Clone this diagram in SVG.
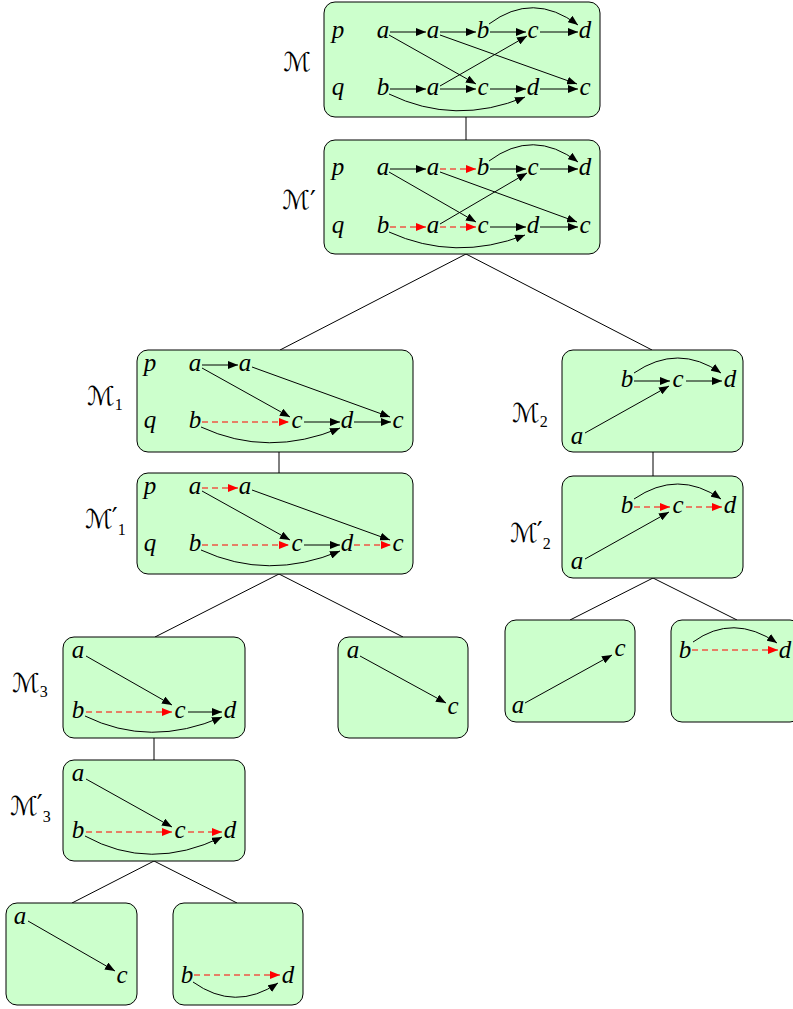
<svg xmlns="http://www.w3.org/2000/svg" width="793" height="1009" viewBox="0 0 793 1009">
<style>
.box{fill:#ccffcc;stroke:#000;stroke-width:1}
.t{font-family:"Liberation Serif",serif;font-style:italic;font-size:25px;text-anchor:middle;fill:#000}
.lab{font-family:"DejaVu Serif","DejaVu Sans",serif;font-size:26px;fill:#000}
.sub{font-size:16px;font-family:"Liberation Serif",serif}
.e{fill:none;stroke:#000;stroke-width:1;marker-end:url(#ah)}
.r{fill:none;stroke:#ff0000;stroke-width:1;stroke-dasharray:6 4;marker-end:url(#ahr)}
.tree{fill:none;stroke:#000;stroke-width:1}
</style>
<defs>
<marker id="ah" markerUnits="userSpaceOnUse" markerWidth="11" markerHeight="8" refX="10" refY="4" orient="auto"><path d="M0,0 L10,4 L0,8 z" fill="#000"/></marker>
<marker id="ahr" markerUnits="userSpaceOnUse" markerWidth="11" markerHeight="8" refX="10" refY="4" orient="auto"><path d="M0,0 L10,4 L0,8 z" fill="#ff0000"/></marker>
</defs>
<g id="connectors">
<path class="tree" d="M466,117 V140"/>
<path class="tree" d="M466,254 L280,350"/>
<path class="tree" d="M466,254 L652,350"/>
<path class="tree" d="M279,452 V473"/>
<path class="tree" d="M653,452 V476"/>
<path class="tree" d="M279,574 L155,637"/>
<path class="tree" d="M279,574 L403,637"/>
<path class="tree" d="M653,578 L570,620"/>
<path class="tree" d="M653,578 L737,620"/>
<path class="tree" d="M154,738 V760"/>
<path class="tree" d="M154,861 L72,903"/>
<path class="tree" d="M154,861 L237,903"/>
</g>
<g id="M">
<rect class="box" x="324" y="2" width="276" height="115" rx="11"/>
<text class="lab" x="311" y="71" text-anchor="end">ℳ</text>
<text class="t" x="338" y="38">p</text><text class="t" x="338" y="95">q</text>
<text class="t" x="383" y="38">a</text><text class="t" x="433" y="38">a</text><text class="t" x="483" y="38">b</text><text class="t" x="533" y="38">c</text><text class="t" x="585" y="38">d</text>
<text class="t" x="383" y="95">b</text><text class="t" x="433" y="95">a</text><text class="t" x="483" y="95">c</text><text class="t" x="533" y="95">d</text><text class="t" x="585" y="95">c</text>
<path class="e" d="M390,32 H426"/><path class="e" d="M440,32 H476"/><path class="e" d="M490,32 H526"/><path class="e" d="M540,32 H578"/>
<path class="e" d="M489,24 Q533,-9 578,25"/>
<path class="e" d="M389,35 L476,84"/><path class="e" d="M440,35 L577,84"/><path class="e" d="M440,86 L527,36"/>
<path class="e" d="M390,89 H426"/><path class="e" d="M440,89 H476"/><path class="e" d="M490,89 H526"/><path class="e" d="M540,89 H578"/>
<path class="e" d="M389,94 Q455,126 525,97"/>
</g>
<g id="Mprime">
<rect class="box" x="324" y="140" width="276" height="114" rx="11"/>
<text class="lab" x="316" y="209" text-anchor="end">ℳ′</text>
<text class="t" x="338" y="175">p</text><text class="t" x="338" y="233">q</text>
<text class="t" x="383" y="175">a</text><text class="t" x="433" y="175">a</text><text class="t" x="483" y="175">b</text><text class="t" x="533" y="175">c</text><text class="t" x="585" y="175">d</text>
<text class="t" x="383" y="233">b</text><text class="t" x="433" y="233">a</text><text class="t" x="483" y="233">c</text><text class="t" x="533" y="233">d</text><text class="t" x="585" y="233">c</text>
<path class="e" d="M390,169 H426"/><path class="r" d="M440,169 H476"/><path class="e" d="M490,169 H526"/><path class="e" d="M540,169 H578"/>
<path class="e" d="M489,161 Q533,128 578,162"/>
<path class="e" d="M389,172 L476,222"/><path class="e" d="M440,172 L577,222"/><path class="e" d="M440,224 L527,173"/>
<path class="r" d="M390,227 H426"/><path class="r" d="M440,227 H476"/><path class="e" d="M490,227 H526"/><path class="e" d="M540,227 H578"/>
<path class="e" d="M389,232 Q455,262 525,235"/>
</g>
<g id="M1">
<rect class="box" x="137" y="350" width="276" height="102" rx="11"/>
<text class="lab" x="87" y="405">ℳ<tspan class="sub" dy="5">1</tspan></text>
<text class="t" x="150" y="371">p</text><text class="t" x="150" y="428">q</text>
<text class="t" x="195" y="371">a</text><text class="t" x="245" y="371">a</text>
<text class="t" x="195" y="428">b</text><text class="t" x="297" y="428">c</text><text class="t" x="347" y="428">d</text><text class="t" x="398" y="428">c</text>
<path class="e" d="M202,365 H238"/>
<path class="e" d="M202,368 L290,417"/><path class="e" d="M252,367 L390,417"/>
<path class="r" d="M202,422 H289"/><path class="e" d="M304,422 H340"/><path class="e" d="M354,422 H391"/>
<path class="e" d="M201,427 Q268,458 340,428"/>
</g>
<g id="M1prime">
<rect class="box" x="137" y="473" width="276" height="101" rx="11"/>
<text class="lab" x="85" y="528">ℳ<tspan dx="-1" dy="-2">′</tspan><tspan class="sub" dx="0" dy="9">1</tspan></text>
<text class="t" x="150" y="494">p</text><text class="t" x="150" y="551">q</text>
<text class="t" x="195" y="494">a</text><text class="t" x="245" y="494">a</text>
<text class="t" x="195" y="551">b</text><text class="t" x="297" y="551">c</text><text class="t" x="347" y="551">d</text><text class="t" x="398" y="551">c</text>
<path class="r" d="M202,488 H238"/>
<path class="e" d="M202,491 L290,540"/><path class="e" d="M252,490 L390,540"/>
<path class="r" d="M202,545 H289"/><path class="e" d="M304,545 H340"/><path class="r" d="M354,545 H391"/>
<path class="e" d="M201,550 Q268,581 340,551"/>
</g>
<g id="M2">
<rect class="box" x="562" y="350" width="181" height="102" rx="11"/>
<text class="lab" x="512" y="422">ℳ<tspan class="sub" dy="5">2</tspan></text>
<text class="t" x="627" y="387">b</text><text class="t" x="678" y="387">c</text><text class="t" x="730" y="387">d</text><text class="t" x="577" y="444">a</text>
<path class="e" d="M634,381 H670"/><path class="e" d="M686,381 H722"/>
<path class="e" d="M634,373 Q678,343 721,373"/>
<path class="e" d="M585,433 L669,386"/>
</g>
<g id="M2prime">
<rect class="box" x="562" y="476" width="181" height="102" rx="11"/>
<text class="lab" x="510" y="542">ℳ<tspan dx="-1" dy="-2">′</tspan><tspan class="sub" dx="0" dy="9">2</tspan></text>
<text class="t" x="627" y="513">b</text><text class="t" x="678" y="513">c</text><text class="t" x="730" y="513">d</text><text class="t" x="577" y="569">a</text>
<path class="r" d="M634,507 H670"/><path class="r" d="M686,507 H722"/>
<path class="e" d="M634,499 Q678,469 721,499"/>
<path class="e" d="M585,559 L669,512"/>
</g>
<g id="M2a">
<rect class="box" x="505" y="620" width="130" height="102" rx="11"/>
<text class="t" x="518" y="713">a</text><text class="t" x="620" y="656">c</text>
<path class="e" d="M525,703 L612,655"/>
</g>
<g id="M2b">
<rect class="box" x="671" y="620" width="130" height="102" rx="11"/>
<text class="t" x="685" y="658">b</text><text class="t" x="785" y="658">d</text>
<path class="r" d="M692,650 H778"/>
<path class="e" d="M693,642 Q733,613 777,643"/>
</g>
<g id="M3">
<rect class="box" x="63" y="637" width="182" height="101" rx="11"/>
<text class="lab" x="12" y="692">ℳ<tspan class="sub" dy="5">3</tspan></text>
<text class="t" x="78" y="658">a</text><text class="t" x="78" y="718">b</text><text class="t" x="180" y="718">c</text><text class="t" x="230" y="718">d</text>
<path class="e" d="M86,656 L172,705"/>
<path class="r" d="M86,712 H172"/><path class="e" d="M188,712 H222"/>
<path class="e" d="M85,716 Q150,748 222,717"/>
</g>
<g id="M1b">
<rect class="box" x="338" y="637" width="130" height="101" rx="11"/>
<text class="t" x="353" y="658">a</text><text class="t" x="453" y="714">c</text>
<path class="e" d="M360,656 L446,703"/>
</g>
<g id="M3prime">
<rect class="box" x="63" y="760" width="182" height="101" rx="11"/>
<text class="lab" x="10" y="815">ℳ<tspan dx="-1" dy="-2">′</tspan><tspan class="sub" dx="0" dy="9">3</tspan></text>
<text class="t" x="78" y="781">a</text><text class="t" x="78" y="838">b</text><text class="t" x="180" y="838">c</text><text class="t" x="230" y="838">d</text>
<path class="e" d="M86,779 L172,827"/>
<path class="r" d="M86,832 H172"/><path class="r" d="M188,832 H222"/>
<path class="e" d="M85,836 Q150,872 222,837"/>
</g>
<g id="M3a">
<rect class="box" x="6" y="903" width="131" height="102" rx="11"/>
<text class="t" x="20" y="924">a</text><text class="t" x="122" y="983">c</text>
<path class="e" d="M28,921 L115,971"/>
</g>
<g id="M3b">
<rect class="box" x="173" y="903" width="130" height="102" rx="11"/>
<text class="t" x="187" y="983">b</text><text class="t" x="288" y="983">d</text>
<path class="r" d="M194,975 H280"/>
<path class="e" d="M193,982 Q235,1012 278,983"/>
</g>
</svg>
